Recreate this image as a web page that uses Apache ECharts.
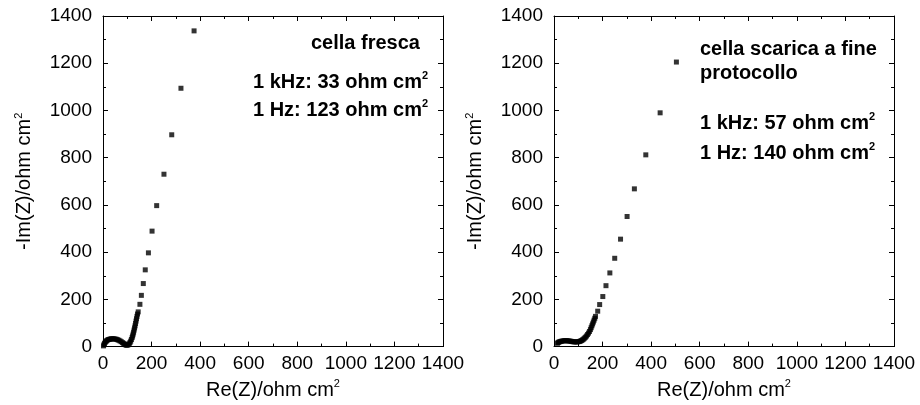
<!DOCTYPE html>
<html>
<head>
<meta charset="utf-8">
<script src="https://cdn.jsdelivr.net/npm/echarts@6/dist/echarts.min.js"></script>
<style>
  html, body { margin: 0; padding: 0; background: #fff; }
  #chart { width: 920px; height: 405px; }
</style>
</head>
<body>
<div id="chart"></div>
<script>
// Nyquist plots of two cells: fresh and discharged at the end of the protocol
const axisTicks = [0, 200, 400, 600, 800, 1000, 1200, 1400];

// fresh cell: Re(Z) and -Im(Z), ohm cm^2
const freshRe = [2, 4, 6, 9, 12, 15, 19, 23, 27, 31, 35, 40, 45, 50, 55, 60, 65, 70, 75, 80, 84, 88, 92, 96, 100,
  104, 108, 111, 114, 117, 120, 122, 124, 126, 128, 130, 132, 134, 136, 138, 140, 142,
  145, 152, 158, 166, 174, 187, 202, 221, 251, 283, 321, 375];
const freshIm = [3, 8, 13, 18, 22, 25, 28, 30, 31, 32, 33, 33, 33, 32, 31, 29, 27, 24, 21, 17, 14, 11, 8, 6, 6,
  8, 12, 17, 23, 30, 38, 45, 53, 61, 70, 79, 88, 98, 108, 118, 128, 138,
  147, 179, 217, 267, 325, 397, 489, 597, 730, 897, 1094, 1337];

// discharged cell at the end of the protocol
const usedRe = [14, 17, 20, 24, 28, 32, 37, 42, 47, 52, 57, 62, 67, 72, 77, 82, 87, 92, 97, 102, 106, 110, 114, 118,
  122, 126, 130, 134, 138, 142, 146, 150, 153, 156, 159, 162, 165, 168, 171,
  180, 188, 201, 214, 230, 250, 274, 301, 331, 378, 437, 504];
const usedIm = [14, 17, 19, 21, 22, 23, 24, 25, 25, 25, 24, 24, 23, 22, 21, 20, 20, 20, 20, 21, 22, 24, 26, 29,
  32, 36, 40, 45, 51, 57, 64, 72, 80, 88, 96, 104, 112, 120, 128,
  150, 178, 212, 258, 312, 374, 455, 551, 668, 812, 990, 1205];

const freshNotes = ['cella fresca', '1 kHz: 33 ohm cm', '1 Hz: 123 ohm cm'];
const usedNotes = ['cella scarica a fine', 'protocollo', '1 kHz: 57 ohm cm', '1 Hz: 140 ohm cm'];

const FONT = 'Liberation Sans, Arial, sans-serif';
const zip = (a, b) => a.map((v, i) => [v, b[i]]);

const supRich = {
  t: { fontFamily: FONT, fontSize: 20, color: '#000', lineHeight: 23, verticalAlign: 'middle' },
  s: { fontFamily: FONT, fontSize: 11, color: '#000', lineHeight: 11, verticalAlign: 'top' }
};
const boldRich = {
  t: { fontFamily: FONT, fontSize: 20, fontWeight: 'bold', color: '#000', lineHeight: 23, verticalAlign: 'middle' },
  s: { fontFamily: FONT, fontSize: 11, fontWeight: 'bold', color: '#000', lineHeight: 11, verticalAlign: 'top' }
};

const tickLabel = (margin) => ({
  show: true, color: '#000', fontFamily: FONT, fontSize: 19, margin: margin,
  showMinLabel: true, showMaxLabel: true,
  formatter: (v) => String(v)
});

function baseAxis(extra) {
  return Object.assign({
    type: 'value',
    min: axisTicks[0],
    max: axisTicks[axisTicks.length - 1],
    interval: axisTicks[1] - axisTicks[0],
    axisLine: { show: true, onZero: false, lineStyle: { color: '#000', width: 1 } },
    axisTick: { show: true, inside: true, length: 5, lineStyle: { color: '#000', width: 1 } },
    minorTick: { show: true, splitNumber: 2, length: 3, lineStyle: { color: '#000', width: 1 } },
    splitLine: { show: false },
    minorSplitLine: { show: false },
    axisLabel: { show: false }
  }, extra);
}

function axesFor(grid) {
  const xs = [
    baseAxis({
      gridIndex: grid, position: 'bottom',
      name: '{t|Re(Z)/ohm cm}{s|2}', nameLocation: 'middle', nameGap: 31,
      nameTextStyle: { rich: supRich },
      axisLabel: tickLabel(8)
    }),
    baseAxis({ gridIndex: grid, position: 'top' })
  ];
  const ys = [
    baseAxis({
      gridIndex: grid, position: 'left',
      name: '{t|-Im(Z)/ohm cm}{s|2}', nameLocation: 'middle', nameGap: 67,
      nameTextStyle: { rich: supRich },
      axisLabel: tickLabel(11)
    }),
    baseAxis({ gridIndex: grid, position: 'right' })
  ];
  return { xs, ys };
}

const a0 = axesFor(0);
const a1 = axesFor(1);

function note(text, x, y, sup) {
  return {
    type: 'text', x: x, y: y,
    style: {
      text: '{t|' + text + '}' + (sup ? '{s|2}' : ''),
      rich: boldRich, verticalAlign: 'middle', align: 'left'
    }
  };
}

const option = {
  backgroundColor: '#fff',
  animation: false,
  grid: [
    { left: 103, top: 16, width: 340, height: 336 },
    { left: 554, top: 16, width: 340, height: 336 }
  ],
  xAxis: [a0.xs[0], a0.xs[1], a1.xs[0], a1.xs[1]],
  yAxis: [a0.ys[0], a0.ys[1], a1.ys[0], a1.ys[1]],
  series: [
    {
      type: 'scatter', xAxisIndex: 0, yAxisIndex: 0,
      symbol: 'rect', symbolSize: 5,
      itemStyle: { color: '#000' },
      data: zip(freshRe, freshIm)
    },
    {
      type: 'scatter', xAxisIndex: 2, yAxisIndex: 2,
      symbol: 'rect', symbolSize: 5,
      itemStyle: { color: '#000' },
      data: zip(usedRe, usedIm)
    }
  ],
  graphic: [
    note(freshNotes[0], 311, 43, false),
    note(freshNotes[1], 253, 82, true),
    note(freshNotes[2], 253, 110, true),
    note(usedNotes[0], 700, 49, false),
    note(usedNotes[1], 700, 73, false),
    note(usedNotes[2], 700, 123, true),
    note(usedNotes[3], 700, 153, true)
  ]
};

const chart = echarts.init(document.getElementById('chart'), null, { renderer: 'canvas' });
chart.setOption(option);
</script>
</body>
</html>
